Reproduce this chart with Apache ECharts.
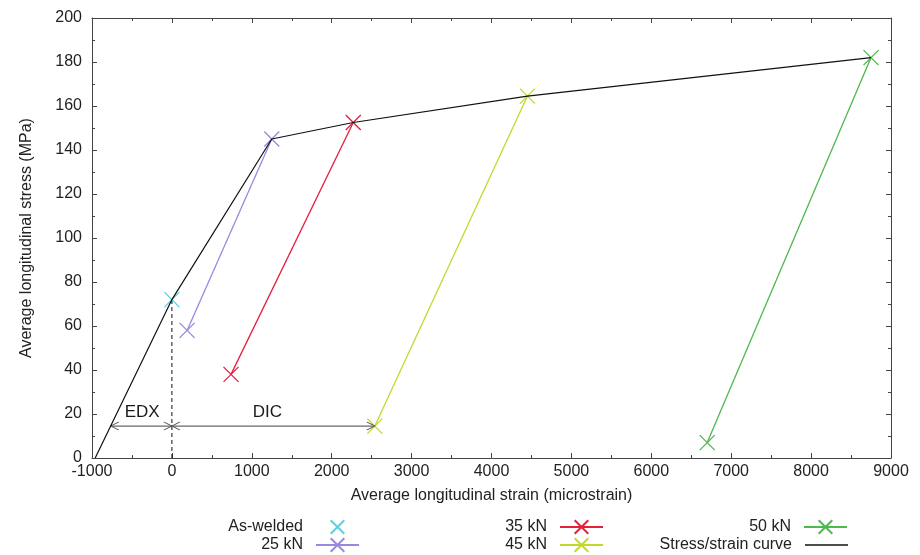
<!DOCTYPE html>
<html>
<head>
<meta charset="utf-8">
<script src="https://cdn.jsdelivr.net/npm/echarts@6/dist/echarts.min.js"></script>
<style>
html,body{margin:0;padding:0;background:#fff;}
#chart{width:920px;height:555px;}
</style>
</head>
<body>
<div id="chart"></div>
<script>
// ---- data ----
var xTicks = [-1000, 0, 1000, 2000, 3000, 4000, 5000, 6000, 7000, 8000, 9000];
var yTicks = [0, 20, 40, 60, 80, 100, 120, 140, 160, 180, 200];

var curveX = [-960, 0, 1250, 2270, 4450, 8750];
var curveY = [0, 72, 145, 152.5, 164.5, 182];

var asWeldedX = [0];      var asWeldedY = [72];
var kn25X = [1250, 190];  var kn25Y = [145, 58];
var kn35X = [2270, 740];  var kn35Y = [152.5, 38];
var kn45X = [4450, 2540]; var kn45Y = [164.5, 14.5];
var kn50X = [8750, 6700]; var kn50Y = [182, 7];

// annotations
var edxX = [-766, 0];  var edxY = [14.5, 14.5];
var dicX = [0, 2540];  var dicY = [14.5, 14.5];
var dashX = [0, 0];    var dashY = [0, 72];
var annoLabels = ['EDX', 'DIC'];
var annoLabelX = [-372, 1195];
var annoLabelY = [20.6, 20.6];

var seriesNames = ['As-welded', '25 kN', '35 kN', '45 kN', '50 kN', 'Stress/strain curve'];
var seriesColors = ['#5ccfe0', '#9a88dc', '#e4203f', '#c3d82c', '#4cb84f', '#111111'];

function pts(xs, ys) { return xs.map(function (x, i) { return [x, ys[i]]; }); }

var FONT = '"Liberation Sans", Arial, Helvetica, sans-serif';
var XSYM = 'path://M0,0L10,10M10,0L0,10';
var CHEV = 'path://M16,0L8,4L16,8M0,4L0.01,4';

function markerSeries(name, data, color, showLine) {
  return {
    name: name, type: 'line', data: data,
    symbol: XSYM, symbolSize: 15,
    lineStyle: { color: color, width: 1.3, opacity: showLine ? 1 : 0 },
    itemStyle: { color: color, borderColor: color, borderWidth: 1.3 },
    z: 3, animation: false
  };
}

var series = [
  markerSeries(seriesNames[0], pts(asWeldedX, asWeldedY), seriesColors[0], false),
  markerSeries(seriesNames[1], pts(kn25X, kn25Y), seriesColors[1], true),
  markerSeries(seriesNames[2], pts(kn35X, kn35Y), seriesColors[2], true),
  markerSeries(seriesNames[3], pts(kn45X, kn45Y), seriesColors[3], true),
  markerSeries(seriesNames[4], pts(kn50X, kn50Y), seriesColors[4], true),
  {
    name: seriesNames[5], type: 'line', data: pts(curveX, curveY),
    symbol: 'none', lineStyle: { color: seriesColors[5], width: 1.2 }, itemStyle: { color: seriesColors[5] },
    z: 4, animation: false
  },
  {
    type: 'line', data: pts(dashX, dashY), symbol: 'none', silent: true,
    lineStyle: { color: '#111', width: 1, type: [4, 3] }, animation: false
  }
];

function arrowSeries(xs, ys) {
  var d = pts(xs, ys).map(function (p, i) {
    return { value: p, symbolRotate: i === 0 ? 0 : 180 };
  });
  return {
    type: 'line', data: d, symbol: CHEV, symbolSize: [16, 8], silent: true,
    lineStyle: { color: '#444', width: 1 },
    itemStyle: { color: 'rgba(0,0,0,0)', borderColor: '#555', borderWidth: 1 },
    animation: false
  };
}
series.push(arrowSeries(edxX, edxY));
series.push(arrowSeries(dicX, dicY));
series.push({
  type: 'scatter', symbolSize: 1, silent: true, animation: false,
  itemStyle: { color: 'rgba(0,0,0,0)', opacity: 1 },
  data: annoLabels.map(function (t, i) { return { name: t, value: [annoLabelX[i], annoLabelY[i]] }; }),
  label: { show: true, position: 'inside', formatter: '{b}', color: '#1a1a1a', opacity: 1, fontSize: 17, fontFamily: FONT }
});

var tickLabelStyle = { color: '#222', fontSize: 16, fontFamily: FONT, formatter: function (v) { return String(v); } };
var axisLineStyle = { onZero: false, lineStyle: { color: '#444', width: 1 } };

function mkLegend(name, right, top, extra) {
  var l = {
    data: [name], right: right, top: top, orient: 'vertical', align: 'right',
    itemWidth: 43, itemHeight: 17, padding: 0, selectedMode: false,
    textStyle: { color: '#222', fontSize: 16, fontFamily: FONT, padding: [0, 8, 0, 0] }
  };
  if (extra) Object.assign(l, extra);
  return l;
}

var option = {
  backgroundColor: '#fff',
  animation: false,
  grid: { left: 92, right: 29, top: 18, bottom: 97, containLabel: false },
  xAxis: [{
    type: 'value', min: xTicks[0], max: xTicks[xTicks.length - 1], interval: xTicks[1] - xTicks[0],
    name: 'Average longitudinal strain (microstrain)', nameLocation: 'middle', nameGap: 30,
    nameTextStyle: { color: '#222', fontSize: 16, fontFamily: FONT },
    axisLine: axisLineStyle, axisTick: { inside: true, length: 5, lineStyle: { color: '#444' } },
    minorTick: { show: true, splitNumber: 2, length: 3, lineStyle: { color: '#444' } },
    axisLabel: Object.assign({ margin: 6 }, tickLabelStyle),
    splitLine: { show: false }
  }, {
    type: 'value', position: 'top', min: xTicks[0], max: xTicks[xTicks.length - 1], interval: xTicks[1] - xTicks[0],
    axisLine: axisLineStyle, axisTick: { inside: true, length: 5, lineStyle: { color: '#444' } },
    minorTick: { show: true, splitNumber: 2, length: 3, lineStyle: { color: '#444' } },
    axisLabel: { show: false }, splitLine: { show: false }
  }],
  yAxis: [{
    type: 'value', min: yTicks[0], max: yTicks[yTicks.length - 1], interval: yTicks[1] - yTicks[0],
    name: 'Average longitudinal stress (MPa)', nameLocation: 'middle', nameGap: 57,
    nameTextStyle: { color: '#222', fontSize: 16, fontFamily: FONT },
    axisLine: axisLineStyle, axisTick: { inside: true, length: 5, lineStyle: { color: '#444' } },
    minorTick: { show: true, splitNumber: 2, length: 3, lineStyle: { color: '#444' } },
    axisLabel: Object.assign({ margin: 10 }, tickLabelStyle),
    splitLine: { show: false }
  }, {
    type: 'value', position: 'right', min: yTicks[0], max: yTicks[yTicks.length - 1], interval: yTicks[1] - yTicks[0],
    axisLine: axisLineStyle, axisTick: { inside: true, length: 5, lineStyle: { color: '#444' } },
    minorTick: { show: true, splitNumber: 2, length: 3, lineStyle: { color: '#444' } },
    axisLabel: { show: false }, splitLine: { show: false }
  }],
  legend: [
    mkLegend(seriesNames[0], 560, 519),
    mkLegend(seriesNames[1], 560, 537),
    mkLegend(seriesNames[2], 316, 519),
    mkLegend(seriesNames[3], 316, 537),
    mkLegend(seriesNames[4], 72, 519),
    mkLegend(seriesNames[5], 72, 537, { icon: 'rect', itemHeight: 1.6 })
  ],
  series: series
};

var chart = echarts.init(document.getElementById('chart'), null, { renderer: 'canvas' });
chart.setOption(option);
</script>
</body>
</html>
